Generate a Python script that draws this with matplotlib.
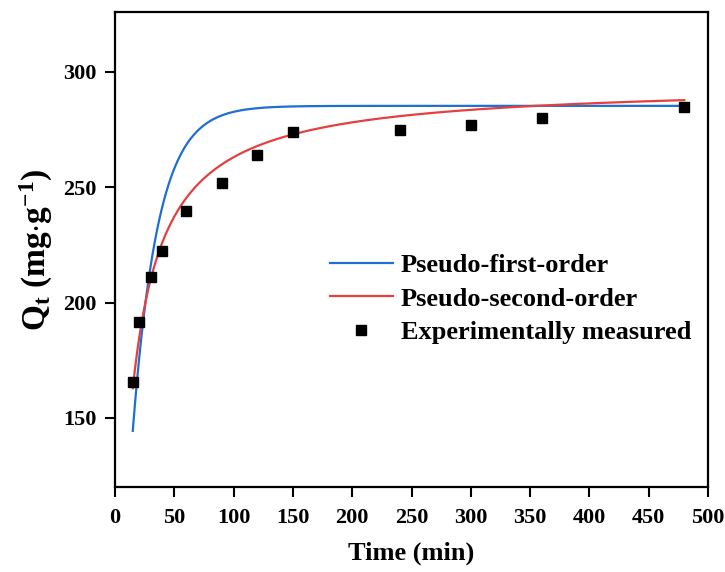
import numpy as np
import matplotlib.pyplot as plt

plt.rcParams['font.family'] = ['Liberation Serif', 'DejaVu Serif']
plt.rcParams['font.weight'] = 'bold'
plt.rcParams['mathtext.fontset'] = 'custom'
plt.rcParams['mathtext.rm'] = 'Liberation Serif:bold'
plt.rcParams['mathtext.it'] = 'Liberation Serif:bold'
plt.rcParams['mathtext.bf'] = 'Liberation Serif:bold'

# measured adsorption capacity
time_min = [15, 20, 30, 40, 60, 90, 120, 150, 240, 300, 360, 480]
qt_measured = [165.5, 191.5, 211, 222.5, 239.5, 252, 264, 274, 275, 277, 280, 285]

# fitted kinetic parameters
qe_pfo, k1 = 285.3, 0.047
qe_pso, k2 = 295.1, 0.000278

x_ticks = [0, 50, 100, 150, 200, 250, 300, 350, 400, 450, 500]
y_ticks = [150, 200, 250, 300]


def pseudo_first(t):
    return qe_pfo * (1 - np.exp(-k1 * t))


def pseudo_second(t):
    return k2 * qe_pso ** 2 * t / (1 + k2 * qe_pso * t)


fig = plt.figure(figsize=(7.25, 5.72), dpi=100)
ax = fig.add_axes([0.1586, 0.1486, 0.818, 0.8304])

t = np.linspace(min(time_min), max(time_min), 500)
ax.plot(t, pseudo_first(t), color='#1f6fd2', lw=1.6, label='Pseudo-first-order')
ax.plot(t, pseudo_second(t), color='#e5403f', lw=1.6, label='Pseudo-second-order')
ax.plot(time_min, qt_measured, 's', color='black', ms=7.5, ls='none',
        label='Experimentally measured')

ax.set_xlim(0, 500)
ax.set_ylim(120, 326)
ax.set_xticks(x_ticks)
ax.set_yticks(y_ticks)
ax.tick_params(direction='out', length=7, width=1.5, labelsize=16)
ax.tick_params(axis='x', pad=8)
ax.tick_params(axis='y', pad=6)
for s in ax.spines.values():
    s.set_linewidth(1.6)

ax.set_xlabel('Time (min)', fontsize=19, fontweight='bold', labelpad=10)
ax.set_ylabel(r'Q$_\mathregular{t}$ (mg$\cdot$g$^\mathregular{-1}$)',
              fontsize=24, fontweight='bold', labelpad=6)

ax.legend(loc='center left', bbox_to_anchor=(0.362, 0.396), frameon=False,
          fontsize=19, handlelength=2.4, handletextpad=0.3, labelspacing=0.38,
          borderpad=0, borderaxespad=0)

fig.savefig('out.png', dpi=100)
